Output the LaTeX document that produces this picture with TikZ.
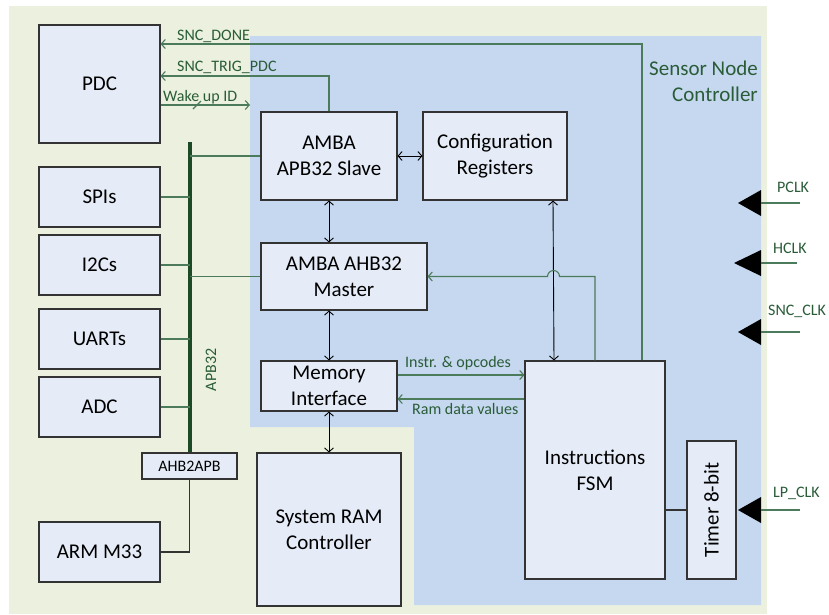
\documentclass[tikz,border=0pt]{standalone}
\usepackage{fontspec}
\setmainfont{Carlito}
\usetikzlibrary{arrows.meta,calc}
\definecolor{bggreen}{HTML}{EBF1DE}
\definecolor{bgblue}{HTML}{C5D8EF}
\definecolor{boxfill}{HTML}{E5ECF7}
\definecolor{txtgreen}{HTML}{2A5C38}
\definecolor{linegreen}{HTML}{4C7B5B}
\definecolor{busgreen}{HTML}{1C4A27}
\definecolor{boxline}{HTML}{333333}
\begin{document}
\begin{tikzpicture}[x=1pt,y=-1pt,
  blk/.style={draw=boxline,fill=boxfill,line width=1.1pt,rectangle,align=center,inner sep=0pt,font=\fontsize{21}{26}\selectfont},
  sig/.style={draw=linegreen,line width=1.1pt},
  blk2/.style={draw=black,line width=0.9pt},
  arr/.style={-{Straight Barb[length=4pt,width=9pt]}},
  darr/.style={{Straight Barb[length=4pt,width=9pt]}-{Straight Barb[length=4pt,width=9pt]}},
  lbl/.style={text=txtgreen,font=\fontsize{16}{19}\selectfont,inner sep=0pt},
  clk/.style={fill=black,draw=none}]
\useasboundingbox (0,0) rectangle (829,614);
% backgrounds
\fill[bggreen] (9,6) rectangle (767,614);
\fill[bgblue] (250,36) -- (761,36) -- (761,605) -- (414,605) -- (414,427) -- (250,427) -- cycle;
\node[text=txtgreen,font=\fontsize{21}{26}\selectfont,align=right,anchor=north east,inner sep=0pt] (snclbl) at (758,61) {Sensor Node\\Controller};
% blocks
\node[blk,minimum width=121pt,minimum height=118pt] (pdc) at (99.5,84) {PDC};
\node[blk,minimum width=121pt,minimum height=60pt] (spi) at (99.5,197) {SPIs};
\node[blk,minimum width=121pt,minimum height=60pt] (i2c) at (99.5,265) {I2Cs};
\node[blk,minimum width=121pt,minimum height=60pt] (uart) at (99.5,339) {UARTs};
\node[blk,minimum width=121pt,minimum height=60pt] (adc) at (99.5,407) {ADC};
\node[blk,minimum width=121pt,minimum height=60pt] (arm) at (99.5,552) {ARM M33};
\node[blk,minimum width=95pt,minimum height=26pt,font=\fontsize{16}{19}\selectfont] (bridge) at (189.5,466) {AHB2APB};
\node[blk,minimum width=136pt,minimum height=88pt] (apb) at (329,156) {AMBA\\APB32 Slave};
\node[blk,minimum width=144pt,minimum height=88pt] (cfg) at (495,156) {Configuration\\Registers};
\node[blk,minimum width=166pt,minimum height=67pt] (ahbm) at (344,276.5) {AMBA AHB32\\Master};
\node[blk,minimum width=136pt,minimum height=50pt] (mif) at (329,386) {Memory\\Interface};
\node[blk,minimum width=144pt,minimum height=153pt] (ram) at (329,529.5) {System RAM\\Controller};
\node[blk,minimum width=140pt,minimum height=218pt] (fsm) at (595,470) {Instructions\\FSM};
\node[blk,minimum width=49pt,minimum height=138pt] (timer) at (711.5,510) {};
\node[font=\fontsize{21}{26}\selectfont,rotate=90,inner sep=0pt] (timertxt) at (timer.center) {Timer 8-bit};
% bus
\coordinate (bustop) at (190,142);
\draw[busgreen,line width=3.6pt] (bustop) -- (bridge.north -| bustop);
\node[lbl,rotate=90] (buslbl) at (211,370) {APB32};
\foreach \n in {spi,i2c,uart,adc} {\draw[sig] (\n.east) -- (\n.east -| bustop);}
\draw[sig] (apb.west) -- (apb.west -| bustop);
\draw[sig] (ahbm.west) -- (ahbm.west -| bustop);
\draw[draw=boxline,line width=1.1pt] (bridge.south) |- (arm.east);
% PDC signals
\draw[sig,arr] (642,0 |- fsm.north) |- (pdc.east |- 0,44);
\node[lbl,anchor=west] (l1) at (177,36) {SNC\_DONE};
\draw[sig,arr] (apb.north) |- (pdc.east |- 0,76);
\node[lbl,anchor=west] (l2) at (177,67) {SNC\_TRIG\_PDC};
\coordinate (wakeend) at (250,105);
\draw[sig,arr] (pdc.east |- wakeend) -- (wakeend);
\draw[sig] (193,109) -- (201,101);
\node[lbl,anchor=west] (l3) at (163,97) {Wake up ID};
% internal black links
\draw[blk2,darr] (apb.east) -- (cfg.west);
\draw[blk2,darr] (apb.south) -- (apb.south |- ahbm.north);
\draw[blk2,darr] (mif.north) -- (mif.north |- ahbm.south);
\draw[blk2,darr] (mif.south) -- (ram.north);
\draw[blk2,darr] (553,0 |- cfg.south) -- (554,0 |- fsm.north);
% FSM to AHB master with hop
\draw[sig,arr] (fsm.north) -- (595,276.5) -- (559.5,276.5) arc[start angle=0,end angle=-180,radius=6] -- (ahbm.east);
% memory interface signals
\draw[sig,arr] (mif.east |- 0,375) -- (fsm.west |- 0,375);
\node[lbl,anchor=west] (l4) at (405,363) {Instr. \& opcodes};
\draw[sig,arr] (fsm.west |- 0,399) -- (mif.east |- 0,399);
\node[lbl,anchor=west] (l5) at (412,409) {Ram data values};
% timer link
\draw[draw=boxline,line width=1.1pt] (fsm.east |- timer.west) -- (timer.west);
% clocks
\foreach \nm/\yy/\tip/\xe/\lx/\ly in {PCLK/203/738/800/777/187, HCLK/263/734/797/773/248, SNC\_CLK/332/738/800/768/311, LP\_CLK/510/738/800/773/493} {
  \fill[clk] (\tip,\yy) -- (761,\yy-13) -- (761,\yy+13) -- cycle;
  \draw[sig] (761,\yy) -- (\xe,\yy);
  \node[lbl,anchor=west] at (\lx,\ly) {\nm};
}
\end{tikzpicture}
\end{document}
